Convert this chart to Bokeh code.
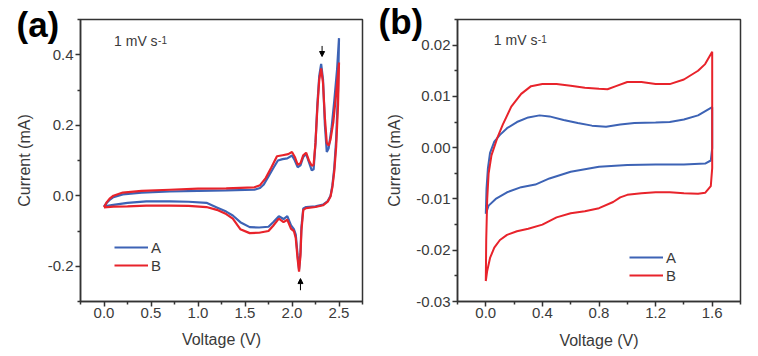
from bokeh.plotting import figure
from bokeh.layouts import row
from bokeh.models import (Label, Legend, LegendItem, Arrow, NormalHead,
                          FixedTicker, PrintfTickFormatter, Title)
from bokeh.embed import file_html
from bokeh.resources import INLINE

# ---------------- Panel (a) data : CV, 0-2.5 V ----------------
a_A_v = [0.00, 0.03, 0.06, 0.10, 0.20, 0.40, 0.70, 1.00, 1.30, 1.60, 1.66, 1.70,
         1.75, 1.80, 1.85, 1.90, 1.95, 2.00, 2.03, 2.06, 2.09, 2.12, 2.15, 2.18,
         2.21, 2.23, 2.25, 2.27, 2.29, 2.31, 2.33, 2.35, 2.37, 2.39, 2.42, 2.45,
         2.48, 2.50,
         2.49, 2.47, 2.45, 2.43, 2.41, 2.38, 2.33, 2.25, 2.15, 2.12, 2.10, 2.09,
         2.075, 2.06, 2.04, 2.02, 1.99, 1.95, 1.91, 1.86, 1.80, 1.75, 1.65, 1.55,
         1.45, 1.37, 1.30, 1.20, 1.09, 0.90, 0.70, 0.45, 0.25, 0.10, 0.00]
a_A_i = [-0.030, -0.020, -0.012, -0.004, 0.004, 0.009, 0.012, 0.014, 0.015, 0.017,
         0.022, 0.032, 0.055, 0.078, 0.100, 0.104, 0.106, 0.114, 0.100, 0.081,
         0.086, 0.110, 0.119, 0.095, 0.072, 0.075, 0.150, 0.260, 0.340, 0.374,
         0.330, 0.200, 0.124, 0.135, 0.190, 0.270, 0.360, 0.447,
         0.300, 0.160, 0.080, 0.030, 0.000, -0.015, -0.025, -0.030, -0.032, -0.036,
         -0.090, -0.160, -0.209, -0.170, -0.110, -0.095, -0.084, -0.058, -0.066,
         -0.058, -0.075, -0.088, -0.090, -0.089, -0.075, -0.056, -0.045, -0.033,
         -0.020, -0.017, -0.016, -0.016, -0.020, -0.026, -0.030]

a_B_v = [0.00, 0.03, 0.06, 0.10, 0.20, 0.40, 0.70, 1.00, 1.30, 1.60, 1.66, 1.72,
         1.78, 1.84, 1.90, 1.96, 2.00, 2.03, 2.06, 2.09, 2.12, 2.15, 2.18, 2.21,
         2.23, 2.25, 2.27, 2.29, 2.31, 2.33, 2.35, 2.37, 2.39, 2.41, 2.44, 2.47,
         2.50,
         2.49, 2.47, 2.45, 2.43, 2.41, 2.38, 2.33, 2.25, 2.15, 2.12, 2.10, 2.09,
         2.075, 2.06, 2.04, 2.02, 1.99, 1.95, 1.91, 1.86, 1.80, 1.75, 1.65, 1.55,
         1.45, 1.37, 1.30, 1.20, 1.09, 0.90, 0.70, 0.45, 0.25, 0.10, 0.00]
a_B_i = [-0.033, -0.018, -0.008, 0.000, 0.009, 0.014, 0.017, 0.020, 0.021, 0.024,
         0.030, 0.050, 0.080, 0.112, 0.115, 0.118, 0.124, 0.110, 0.088, 0.092,
         0.115, 0.122, 0.100, 0.085, 0.088, 0.150, 0.250, 0.330, 0.361, 0.320,
         0.220, 0.150, 0.142, 0.160, 0.210, 0.290, 0.378,
         0.260, 0.140, 0.070, 0.025, -0.002, -0.017, -0.027, -0.032, -0.035, -0.040,
         -0.100, -0.170, -0.215, -0.180, -0.120, -0.100, -0.094, -0.068, -0.075,
         -0.065, -0.085, -0.100, -0.105, -0.106, -0.095, -0.065, -0.052, -0.040,
         -0.032, -0.029, -0.028, -0.028, -0.030, -0.031, -0.033]

# ---------------- Panel (b) data : CV, 0-1.6 V ----------------
b_A_v = [0.000, 0.005, 0.015, 0.03, 0.06, 0.10, 0.15, 0.22, 0.30, 0.38, 0.45, 0.55,
         0.65, 0.75, 0.85, 0.95, 1.05, 1.20, 1.30, 1.40, 1.50, 1.60,
         1.60, 1.59, 1.55, 1.40, 1.20, 1.00, 0.80, 0.60, 0.45, 0.35, 0.25, 0.15,
         0.07, 0.02, 0.00]
b_A_i = [-0.0129, -0.0080, -0.0040, -0.0010, 0.0012, 0.0025, 0.0038, 0.0050,
         0.0059, 0.0063, 0.0061, 0.0054, 0.0048, 0.0043, 0.0041, 0.0045, 0.0048,
         0.0049, 0.0050, 0.0055, 0.0063, 0.0079,
         -0.0001, -0.0025, -0.0031, -0.0033, -0.0033, -0.0034, -0.0037, -0.0047,
         -0.0060, -0.0072, -0.0077, -0.0087, -0.0100, -0.0113, -0.0129]

b_B_v = [0.000, 0.003, 0.010, 0.020, 0.04, 0.08, 0.12, 0.18, 0.25, 0.32, 0.40, 0.50,
         0.60, 0.70, 0.80, 0.86, 0.92, 1.00, 1.10, 1.20, 1.30, 1.40, 1.50, 1.55,
         1.60,
         1.60, 1.59, 1.55, 1.50, 1.40, 1.30, 1.20, 1.10, 1.00, 0.95, 0.90, 0.80,
         0.70, 0.60, 0.50, 0.40, 0.30, 0.22, 0.15, 0.10, 0.06, 0.03, 0.01, 0.00]
b_B_i = [-0.0260, -0.0180, -0.0100, -0.0050, -0.0015, 0.0018, 0.0045, 0.0080,
         0.0105, 0.0120, 0.0124, 0.0124, 0.0121, 0.0117, 0.0115, 0.0114, 0.0120,
         0.0128, 0.0128, 0.0124, 0.0124, 0.0133, 0.0150, 0.0163, 0.0187,
         -0.0040, -0.0075, -0.0088, -0.0090, -0.0089, -0.0087, -0.0087, -0.0089,
         -0.0092, -0.0097, -0.0106, -0.0118, -0.0124, -0.0128, -0.0136, -0.0150,
         -0.0158, -0.0163, -0.0170, -0.0180, -0.0195, -0.0215, -0.0240, -0.0260]

a_xticks = [0.0, 0.5, 1.0, 1.5, 2.0, 2.5]
a_xminor = [-0.25, 0.25, 0.75, 1.25, 1.75, 2.25, 2.75]
a_yticks = [-0.2, 0.0, 0.2, 0.4]
a_yminor = [-0.3, -0.1, 0.1, 0.3, 0.5]
b_xticks = [0.0, 0.4, 0.8, 1.2, 1.6]
b_xminor = [-0.2, 0.2, 0.6, 1.0, 1.4, 1.8]
b_yticks = [-0.03, -0.02, -0.01, 0.00, 0.01, 0.02]
b_yminor = [-0.025, -0.015, -0.005, 0.005, 0.015, 0.025]

BLUE = "#3d63b5"
RED = "#e8232b"
FONT = "Liberation Sans"
AX = "#333333"
TXT = "#3a3a3a"


def style(p, xt, xm, yt, ym, xfmt, yfmt, xstand, ystand):
    p.xaxis.ticker = FixedTicker(ticks=xt, minor_ticks=xm)
    p.yaxis.ticker = FixedTicker(ticks=yt, minor_ticks=ym)
    p.xaxis.formatter = PrintfTickFormatter(format=xfmt)
    p.yaxis.formatter = PrintfTickFormatter(format=yfmt)
    p.xgrid.visible = False
    p.ygrid.visible = False
    p.outline_line_color = AX
    p.outline_line_width = 1.5
    for ax in (p.xaxis, p.yaxis):
        ax.axis_line_color = AX
        ax.axis_line_width = 1.5
        ax.major_tick_line_color = AX
        ax.minor_tick_line_color = AX
        ax.major_tick_line_width = 1.5
        ax.minor_tick_line_width = 1.5
        ax.major_tick_out = 5
        ax.major_tick_in = 0
        ax.minor_tick_out = 3
        ax.minor_tick_in = 0
        ax.major_label_text_font = FONT
        ax.major_label_text_font_size = "15px"
        ax.major_label_text_color = TXT
        ax.axis_label_text_font = FONT
        ax.axis_label_text_font_size = "16px"
        ax.axis_label_text_font_style = "normal"
        ax.axis_label_text_color = TXT
    p.xaxis.major_label_standoff = 1
    p.yaxis.major_label_standoff = 2
    p.xaxis.axis_label = "Voltage (V)"
    p.yaxis.axis_label = "Current (mA)"
    p.xaxis.axis_label_standoff = xstand
    p.yaxis.axis_label_standoff = ystand


def add_legend(p, rA, rB, loc):
    lg = Legend(items=[LegendItem(label="A", renderers=[rA]),
                       LegendItem(label="B", renderers=[rB])],
                location=loc, glyph_width=34, glyph_height=18, label_height=18,
                spacing=0, padding=0, margin=0, label_standoff=3,
                label_text_font=FONT, label_text_font_size="15px",
                label_text_color=TXT, border_line_color=None,
                background_fill_alpha=0)
    p.add_layout(lg)


def add_rate(p, x, y):
    p.add_layout(Label(x=x, y=y, text="1 mV s", text_font=FONT,
                       text_font_size="14px", text_color=TXT))
    p.add_layout(Label(x=x, y=y, x_offset=44, y_offset=5, text="-1",
                       text_font=FONT, text_font_size="10px", text_color=TXT))


def add_tag(p, text, offset, standoff):
    p.add_layout(Title(text=text, align="left", offset=offset, standoff=standoff,
                       text_font=FONT, text_font_size="35px",
                       text_font_style="bold", text_color="black"), "above")


# ---------------- figure (a) ----------------
pa = figure(width=378, height=356, x_range=(-0.25, 2.75), y_range=(-0.3, 0.5),
            output_backend="svg", toolbar_location=None,
            min_border_left=80, min_border_right=16, min_border_top=19,
            min_border_bottom=55)
style(pa, a_xticks, a_xminor, a_yticks, a_yminor, "%.1f", "%.1f", 10, 12)
rA = pa.line(a_A_v, a_A_i, line_color=BLUE, line_width=2.2)
rB = pa.line(a_B_v, a_B_i, line_color=RED, line_width=2.2)
add_legend(pa, rA, rB, (34, 27))
add_rate(pa, 0.107, 0.417)
pa.add_layout(Arrow(end=NormalHead(size=5, fill_color="black", line_color="black"),
                    x_start=2.32, y_start=0.425, x_end=2.32, y_end=0.395,
                    line_color="black", line_width=1))
pa.add_layout(Arrow(end=NormalHead(size=5, fill_color="black", line_color="black"),
                    x_start=2.09, y_start=-0.268, x_end=2.09, y_end=-0.235,
                    line_color="black", line_width=1))
add_tag(pa, "(a)", -64, -48)

# ---------------- figure (b) ----------------
pb = figure(width=380, height=356, x_range=(-0.2, 1.8), y_range=(-0.03, 0.025),
            output_backend="svg", toolbar_location=None,
            min_border_left=79, min_border_right=18, min_border_top=19,
            min_border_bottom=55)
style(pb, b_xticks, b_xminor, b_yticks, b_yminor, "%.1f", "%.2f", 11, 10)
sA = pb.line(b_A_v, b_A_i, line_color=BLUE, line_width=2)
sB = pb.line(b_B_v, b_B_i, line_color=RED, line_width=2)
add_legend(pb, sA, sB, (172, 17))
add_rate(pb, 0.057, 0.0194)
add_tag(pb, "(b)", -79, -42)

layout = row(pa, pb)
open("out.html", "w").write(file_html(layout, INLINE))
